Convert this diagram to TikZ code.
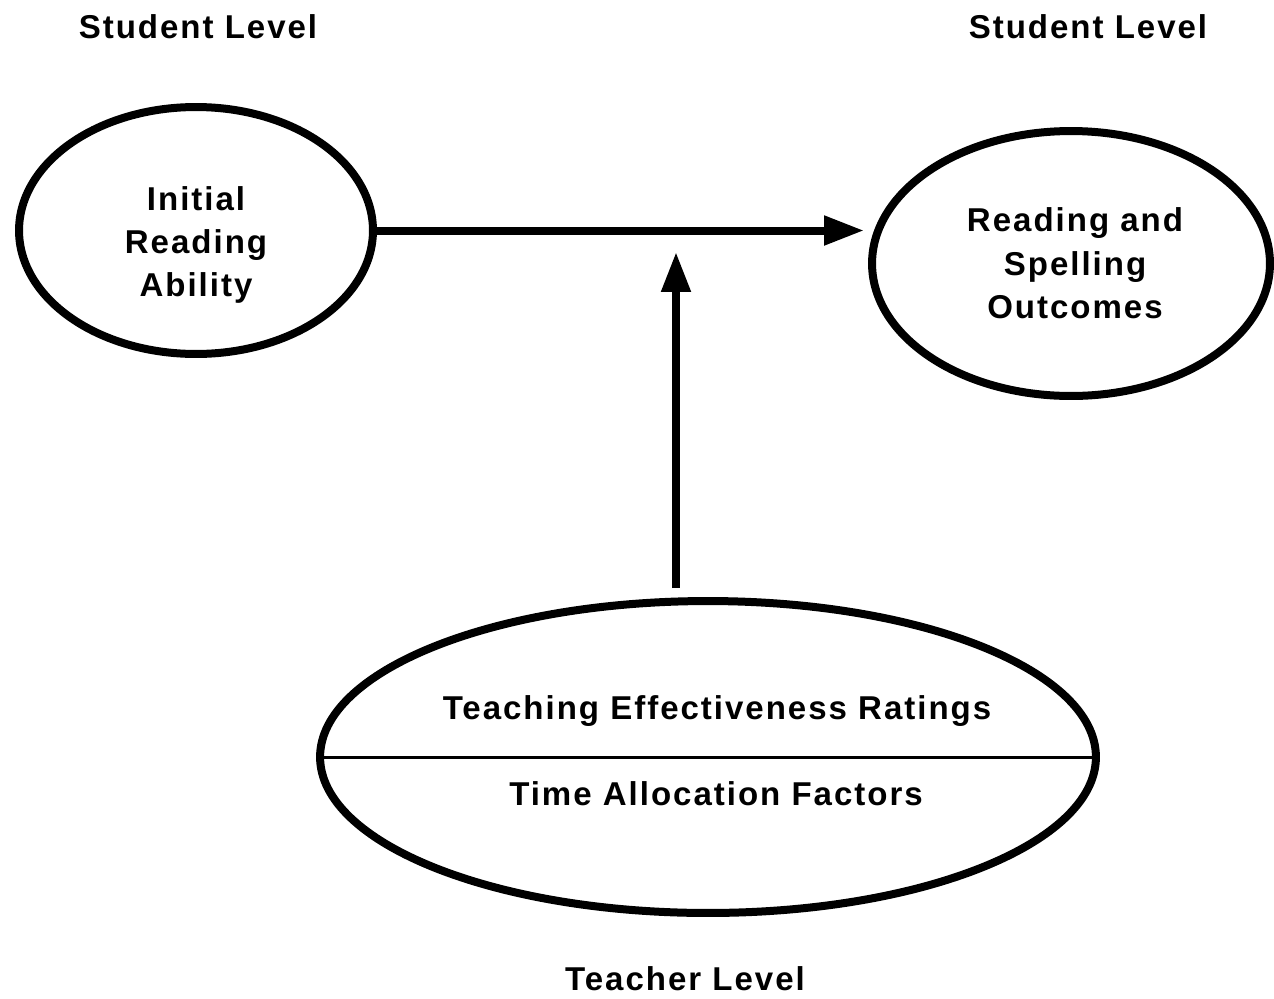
\documentclass[tikz,border=0pt]{standalone}
\usepackage{fontspec}
\setmainfont{Liberation Sans}[LetterSpace=6]
\usetikzlibrary{arrows.meta,shapes.geometric}
\tikzset{
	txt/.style={font=\bfseries\fontsize{18.8}{24.7}\selectfont, inner sep=0},
	levelname/.style={txt, anchor=base},
	oval/.style={draw, ellipse, line width=1.6mm, inner sep=0},
	link/.style={line width=1.6mm, -{Triangle[length=8mm,width=5.6mm]}}
}

\begin{document}
\begin{tikzpicture}[x=0.02cm, y=-0.02cm]
			%%%%% START %%%%%
			\useasboundingbox (0, 0) rectangle (1274, 998);
			
			\node[levelname] (lvlA) at (198, 38) {Student Level};
			\node[levelname] (lvlB) at (1088, 38) {Student Level};
			\node[levelname] (lvlC) at (685, 990) {Teacher Level};
			
			\node[oval, minimum width=7.08cm, minimum height=4.94cm] (ira) at (196, 230.5) {};
			\node[txt, align=center] (iraText) at (196, 245) {Initial\\Reading\\Ability};
			
			\node[oval, minimum width=7.96cm, minimum height=5.3cm] (rso) at (1071, 263.5) {};
			\node[txt, align=center] (rsoText) at (1075, 263.5) {Reading and\\Spelling\\Outcomes};
			
			\node[oval, minimum width=15.52cm, minimum height=6.24cm] (tef) at (708, 757) {};
			\draw[line width=0.6mm] (tef.west) -- (tef.east);
			\node[levelname] (tefTop) at (717, 719) {Teaching Effectiveness Ratings};
			\node[levelname] (tefBot) at (716, 805) {Time Allocation Factors};
			
			\coordinate (mod) at (676, 252);
			\draw[link, shorten >=0.08cm] (ira.east) -- (ira.east -| rso.west);
			\draw[link, shorten <=0.18cm] (mod |- tef.north) -- (mod);
			
			%%%%% END %%%%%
\end{tikzpicture}
\end{document}
